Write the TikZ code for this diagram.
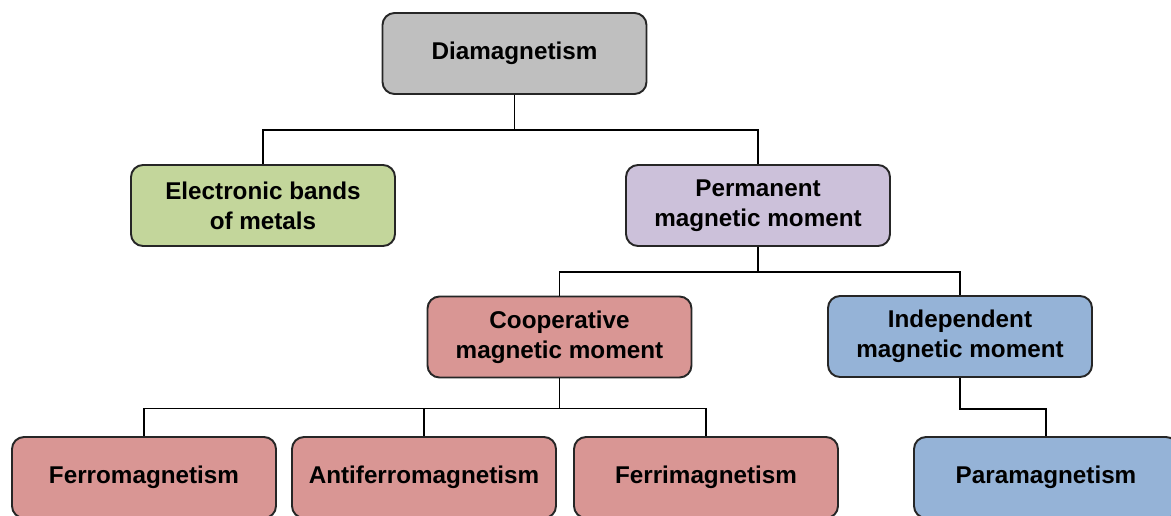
\documentclass[tikz,border=0pt]{standalone}
\usepackage{fontspec}
\setmainfont{Liberation Sans}
\usetikzlibrary{positioning}

\definecolor{boxgray}{HTML}{BFBFBF}
\definecolor{boxgreen}{HTML}{C3D69B}
\definecolor{boxlilac}{HTML}{CCC1DA}
\definecolor{boxred}{HTML}{D99694}
\definecolor{boxblue}{HTML}{95B3D7}

\tikzset{
    class/.style={draw=black!85, line width=1.1pt, rounded corners=0.24cm,
        minimum width=5.28cm, minimum height=1.62cm, align=center,
        font=\fontsize{13.8}{17}\selectfont\bfseries},
    link/.style={draw=black, line width=0.9pt}
}

\begin{document}
\begin{tikzpicture}

        \useasboundingbox (0,0) rectangle (23.42,-10.3);

        % Top level
        \node[class, fill=boxgray] (dia) at (10.29,-1.07) {Diamagnetism};

        % Second level
        \node[class, fill=boxgreen] (bands) at (5.26,-4.11) {Electronic bands\\of metals};
        \node[class, fill=boxlilac] (perm) at (15.16,-4.11) {Permanent\\magnetic moment};

        % Third level
        \node[class, fill=boxred] (coop) at (11.19,-6.74) {Cooperative\\magnetic moment};
        \node[class, fill=boxblue] (indep) at (19.2,-6.73) {Independent\\magnetic moment};

        % Bottom level
        \node[class, fill=boxred] (ferro) at (2.88,-9.55) {Ferromagnetism};
        \node[class, fill=boxred] (antiferro) at (8.48,-9.55) {Antiferromagnetism};
        \node[class, fill=boxred] (ferri) at (14.12,-9.55) {Ferrimagnetism};
        \node[class, fill=boxblue] (para) at (20.92,-9.55) {Paramagnetism};

        % Tree connectors
        \draw[link] (dia.south) -- ++(0,-0.7) -| (bands.north);
        \draw[link] (dia.south) -- ++(0,-0.7) -| (perm.north);
        \draw[link] (perm.south) -- ++(0,-0.5) -| (coop.north);
        \draw[link] (perm.south) -- ++(0,-0.5) -| (indep.north);
        \draw[link] (coop.south) -- ++(0,-0.6) -| (ferro.north);
        \draw[link] (coop.south) -- ++(0,-0.6) -| (antiferro.north);
        \draw[link] (coop.south) -- ++(0,-0.6) -| (ferri.north);
        \draw[link] (indep.south) -- ++(0,-0.62) -| (para.north);

\end{tikzpicture}
\end{document}
